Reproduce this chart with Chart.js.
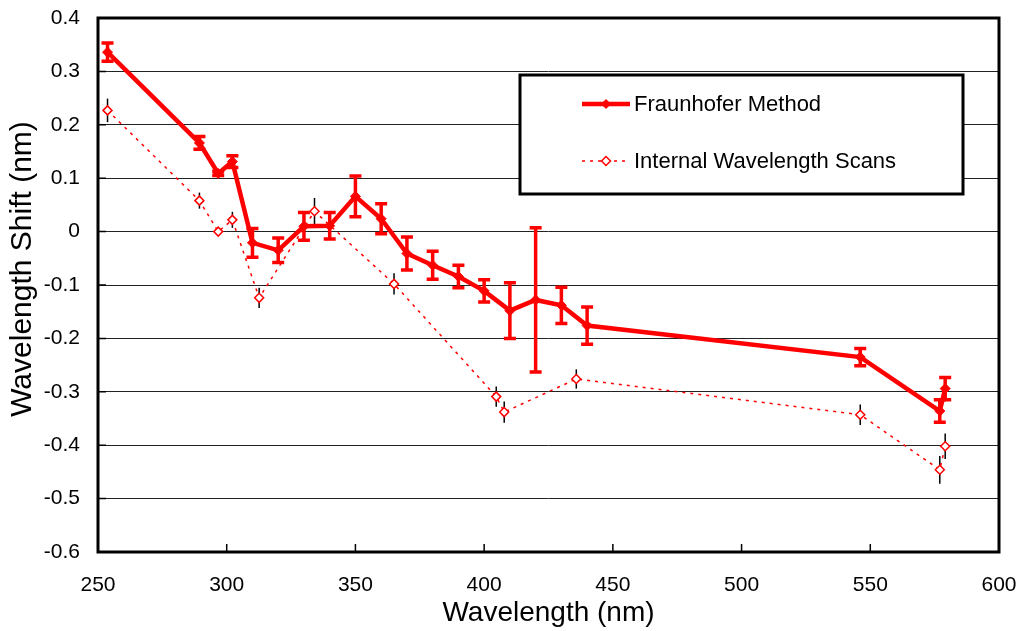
<!DOCTYPE html>
<html lang="en">
<head>
    <meta charset="UTF-8">
    <title>Wavelength Shift</title>
    <style>
        body { margin: 0; background: #fff; overflow: hidden; }
    </style>
</head>
<body>

<canvas id="myChart" width="1023" height="631"></canvas>

<script src="https://cdn.jsdelivr.net/npm/chart.js"></script>
<script>
    // Fraunhofer method
    const fraunhoferX = [253.7, 289.4, 296.7, 302.2, 310, 320, 330, 340, 350, 360, 370, 380, 390, 400, 410, 420, 430, 440, 546.1, 577.0, 579.1];
    const fraunhoferY = [0.336, 0.166, 0.109, 0.131, -0.021, -0.035, 0.010, 0.011, 0.066, 0.024, -0.041, -0.063, -0.084, -0.111, -0.148, -0.128, -0.138, -0.176, -0.235, -0.336, -0.294];
    const fraunhoferErr = [0.017, 0.012, 0.004, 0.011, 0.027, 0.023, 0.026, 0.025, 0.038, 0.028, 0.031, 0.026, 0.021, 0.021, 0.052, 0.135, 0.034, 0.035, 0.016, 0.021, 0.021];

    // internal wavelength scans
    const scanX = [253.7, 289.4, 296.7, 302.2, 312.6, 334.1, 365.0, 404.7, 407.8, 435.8, 546.1, 577.0, 579.1];
    const scanY = [0.227, 0.058, 0.000, 0.022, -0.124, 0.038, -0.098, -0.309, -0.338, -0.276, -0.343, -0.446, -0.402];
    const scanErr = [0.022, 0.015, 0.003, 0.015, 0.019, 0.025, 0.020, 0.019, 0.020, 0.018, 0.019, 0.026, 0.024];

    const xTicks = [250, 300, 350, 400, 450, 500, 550, 600];
    const yTicks = [-0.6, -0.5, -0.4, -0.3, -0.2, -0.1, 0, 0.1, 0.2, 0.3, 0.4];

    const seriesNames = ['Fraunhofer Method', 'Internal Wavelength Scans'];
    const yTitle = 'Wavelength Shift (nm)';
    const fontFamily = "'Liberation Sans', Arial, sans-serif";

    function toPoints(xs, ys) {
        return xs.map((x, i) => ({x: x, y: ys[i]}));
    }

    // error bars drawn just before each dataset so markers sit on top
    const errorBars = {
        id: 'errorBars',
        beforeDatasetDraw(chart, args) {
            const ds = chart.data.datasets[args.index];
            if (!ds.errors) return;
            const ctx = chart.ctx;
            const xs = chart.scales.x;
            const ys = chart.scales.y;
            ctx.save();
            ctx.strokeStyle = ds.errorColor;
            ctx.lineWidth = ds.errorWidth;
            ctx.lineCap = 'butt';
            ds.data.forEach((p, i) => {
                const px = xs.getPixelForValue(p.x);
                const top = ys.getPixelForValue(p.y + ds.errors[i]);
                const bot = ys.getPixelForValue(p.y - ds.errors[i]);
                ctx.beginPath();
                ctx.moveTo(px, top);
                ctx.lineTo(px, bot);
                if (ds.capWidth) {
                    ctx.moveTo(px - ds.capWidth, top);
                    ctx.lineTo(px + ds.capWidth, top);
                    ctx.moveTo(px - ds.capWidth, bot);
                    ctx.lineTo(px + ds.capWidth, bot);
                }
                ctx.stroke();
            });
            ctx.restore();
        }
    };

    // plot frame, inner tick marks, y title and boxed legend
    const frame = {
        id: 'frame',
        afterDraw(chart) {
            const ctx = chart.ctx;
            const a = chart.chartArea;
            const xs = chart.scales.x;
            const ys = chart.scales.y;
            ctx.save();
            ctx.strokeStyle = '#000';
            ctx.lineWidth = 1.5;
            ctx.beginPath();
            xTicks.forEach(v => {
                const px = xs.getPixelForValue(v);
                ctx.moveTo(px, a.bottom);
                ctx.lineTo(px, a.bottom - 8);
            });
            yTicks.forEach(v => {
                const py = ys.getPixelForValue(v);
                ctx.moveTo(a.left, py);
                ctx.lineTo(a.left + 8, py);
            });
            ctx.stroke();

            ctx.lineWidth = 3;
            ctx.strokeRect(a.left, a.top, a.right - a.left, a.bottom - a.top);

            // y axis title, a little above the plot centre as in the original
            ctx.save();
            ctx.translate(23, 269);
            ctx.rotate(-Math.PI / 2);
            ctx.fillStyle = '#000';
            ctx.font = '30px ' + fontFamily;
            ctx.textAlign = 'center';
            ctx.textBaseline = 'middle';
            ctx.fillText(yTitle, 0, 0);
            ctx.restore();

            // legend box
            const lx = 520, ly = 75, lw = 443, lh = 119;
            ctx.fillStyle = '#fff';
            ctx.fillRect(lx, ly, lw, lh);
            ctx.lineWidth = 3;
            ctx.strokeRect(lx, ly, lw, lh);

            const rows = [104, 161];
            chart.data.datasets.forEach((ds, i) => {
                const y = rows[i];
                ctx.strokeStyle = ds.borderColor;
                ctx.lineWidth = ds.borderWidth;
                ctx.setLineDash(ds.borderDash || []);
                ctx.beginPath();
                ctx.moveTo(582, y);
                ctx.lineTo(630, y);
                ctx.stroke();
                ctx.setLineDash([]);
                ctx.fillStyle = ds.pointBackgroundColor;
                ctx.lineWidth = ds.pointBorderWidth;
                ctx.beginPath();
                ctx.moveTo(606 - 4.5, y);
                ctx.lineTo(606, y - 4.5);
                ctx.lineTo(606 + 4.5, y);
                ctx.lineTo(606, y + 4.5);
                ctx.closePath();
                ctx.fill();
                ctx.stroke();

                ctx.fillStyle = '#000';
                ctx.font = '22px ' + fontFamily;
                ctx.textBaseline = 'middle';
                ctx.textAlign = 'left';
                ctx.fillText(ds.label, 634, y + 1);
            });
            ctx.restore();
        }
    };

    function init() {
        let ctx = document.getElementById('myChart').getContext('2d');
        new Chart(ctx, {
            type: 'scatter',
            data: {
                datasets: [
                    {
                        label: seriesNames[0],
                        data: toPoints(fraunhoferX, fraunhoferY),
                        errors: fraunhoferErr,
                        errorColor: '#FF0000',
                        errorWidth: 3.5,
                        capWidth: 6,
                        showLine: true,
                        borderColor: '#FF0000',
                        borderWidth: 4.5,
                        pointStyle: 'rectRot',
                        pointRadius: 5,
                        pointBackgroundColor: '#FF0000',
                        pointBorderColor: '#FF0000',
                        pointBorderWidth: 1,
                    },
                    {
                        label: seriesNames[1],
                        data: toPoints(scanX, scanY),
                        errors: scanErr,
                        errorColor: '#000',
                        errorWidth: 1.5,
                        capWidth: 0,
                        showLine: true,
                        borderColor: '#FF0000',
                        borderWidth: 1.5,
                        borderDash: [3, 5],
                        pointStyle: 'rectRot',
                        pointRadius: 4.5,
                        pointBackgroundColor: '#fff',
                        pointBorderColor: '#FF0000',
                        pointBorderWidth: 1.5,
                    },
                ],
            },
            options: {
                responsive: false,
                animation: false,
                layout: {
                    padding: {top: 18, right: 24, left: 0, bottom: 0}
                },
                plugins: {
                    legend: {display: false},
                    tooltip: {enabled: false},
                },
                scales: {
                    x: {
                        type: 'linear',
                        min: 250,
                        max: 600,
                        afterBuildTicks: scale => { scale.ticks = xTicks.map(v => ({value: v})); },
                        afterFit: scale => {
                            scale.height = 79;
                            scale.paddingLeft = 0;
                            scale.paddingRight = 0;
                        },
                        grid: {display: false, drawTicks: false},
                        border: {display: false},
                        ticks: {
                            color: '#000',
                            padding: 21,
                            font: {family: fontFamily, size: 21},
                        },
                        title: {
                            display: true,
                            text: 'Wavelength (nm)',
                            color: '#000',
                            font: {family: fontFamily, size: 28},
                            padding: {top: 0, bottom: 1},
                        },
                    },
                    y: {
                        min: -0.6,
                        max: 0.4,
                        afterBuildTicks: scale => { scale.ticks = yTicks.map(v => ({value: v})); },
                        afterFit: scale => {
                            scale.width = 98;
                            scale.paddingTop = 0;
                            scale.paddingBottom = 0;
                        },
                        grid: {color: '#222', lineWidth: 1, drawTicks: false},
                        border: {display: false},
                        ticks: {
                            color: '#000',
                            padding: 18,
                            font: {family: fontFamily, size: 21},
                            callback: v => String(Math.round(v * 10) / 10),
                        },
                    },
                },
            },
            plugins: [errorBars, frame],
        });
    }

    document.addEventListener('DOMContentLoaded', init);
</script>

</body>
</html>
